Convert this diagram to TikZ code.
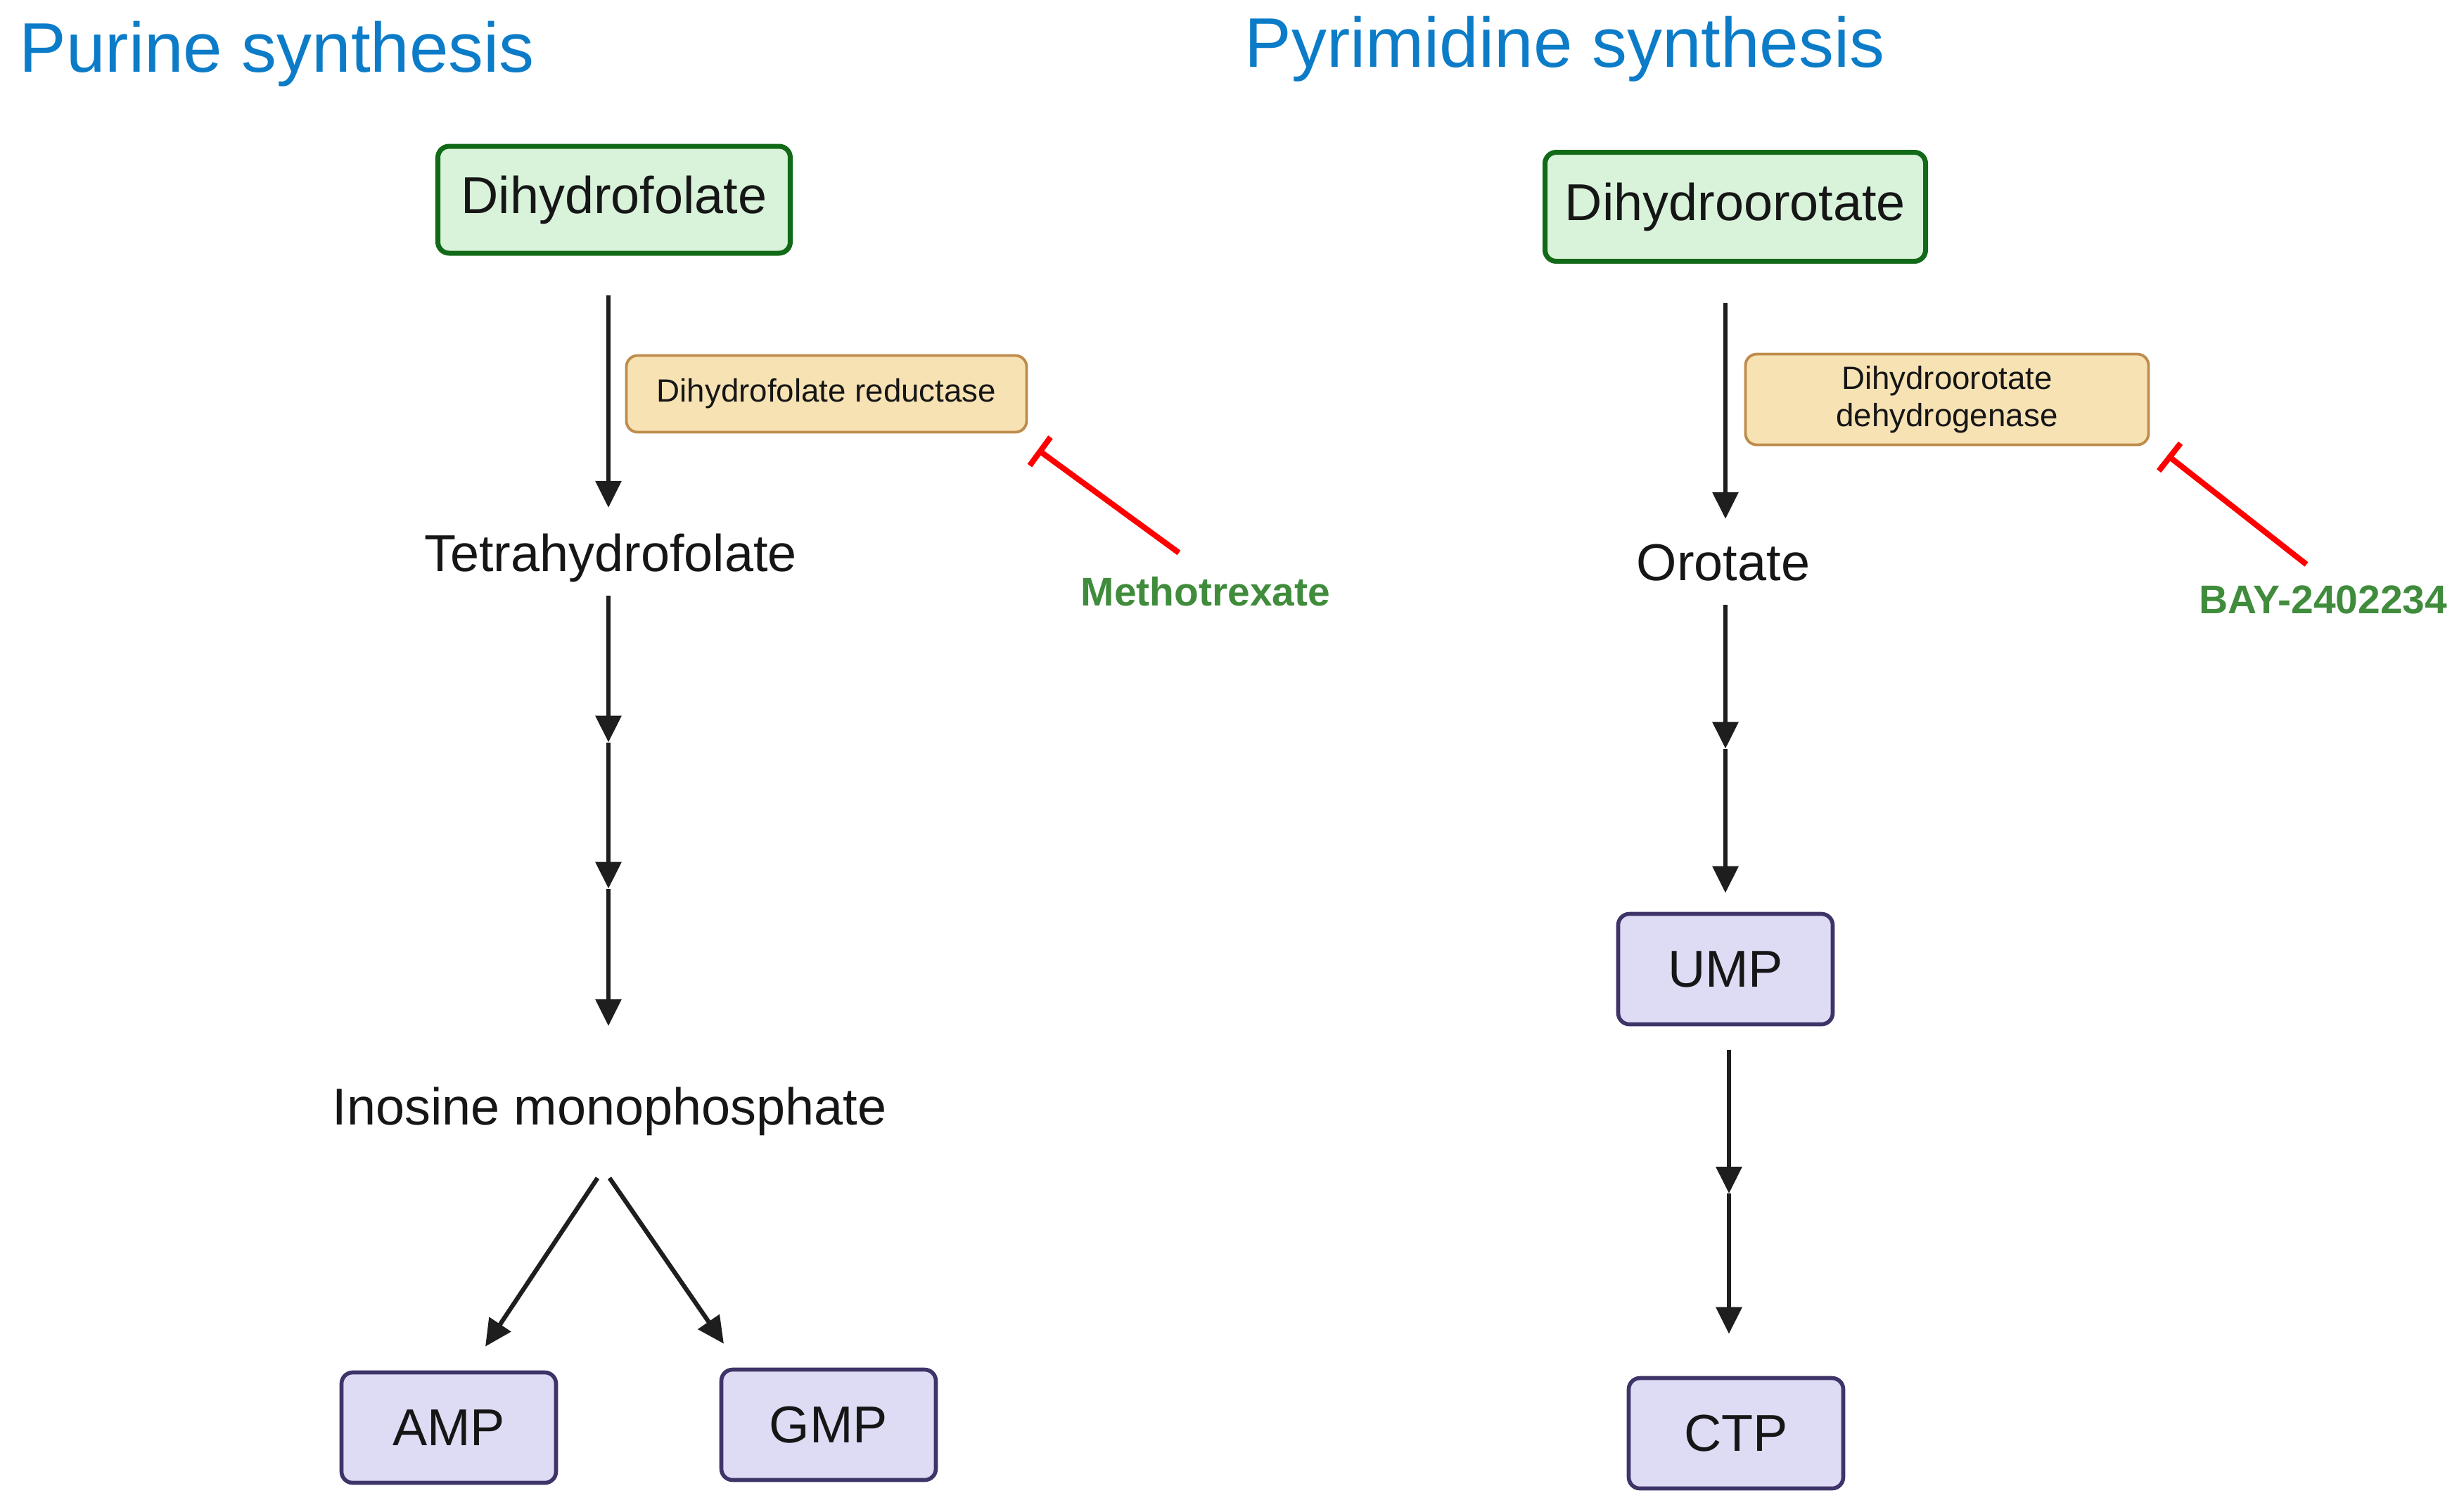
\documentclass[tikz,border=0pt]{standalone}
\usepackage{fontspec}
\setmainfont{Liberation Sans}
\usetikzlibrary{arrows.meta}
\tikzset{>={Triangle[length=3.8mm,width=3.6mm]}}
\definecolor{titleblue}{RGB}{12,124,200}
\definecolor{drugGreen}{RGB}{64,140,60}
\definecolor{startLine}{RGB}{18,106,24}
\definecolor{startFill}{RGB}{216,243,218}
\definecolor{enzLine}{RGB}{190,140,76}
\definecolor{enzFill}{RGB}{247,226,180}
\definecolor{prodLine}{RGB}{62,52,104}
\definecolor{prodFill}{RGB}{222,219,245}
\definecolor{arrowGray}{RGB}{30,30,30}
\definecolor{inkBlack}{RGB}{22,22,22}

\tikzset{
  title/.style={anchor=base west, inner sep=0pt, text=titleblue, font=\fontsize{28.4}{32}\selectfont},
  startbox/.style={draw=startLine, fill=startFill, line width=2pt, rounded corners=1.6mm,
    inner sep=0pt, text=inkBlack, font=\fontsize{21}{25}\selectfont},
  enzbox/.style={draw=enzLine, fill=enzFill, line width=1.1pt, rounded corners=1.6mm,
    inner sep=0pt, align=center, text=inkBlack, font=\fontsize{13}{15}\selectfont},
  prodbox/.style={draw=prodLine, fill=prodFill, line width=1.6pt, rounded corners=1.6mm,
    inner sep=0pt, minimum width=3.05cm, minimum height=1.57cm, text=inkBlack,
    font=\fontsize{21}{25}\selectfont},
  metab/.style={anchor=base, inner sep=0pt, text=inkBlack, font=\fontsize{21}{25}\selectfont},
  drug/.style={anchor=base, inner sep=0pt, text=drugGreen, font=\fontsize{16.2}{19}\selectfont\bfseries},
  flow/.style={->, line width=1.8pt, draw=arrowGray},
  inhibit/.style={-{Bar[width=5mm]}, line width=2.3pt, draw=red},
}

\begin{document}
\begin{tikzpicture}
  \useasboundingbox (0,0) rectangle (35.03,-21.49);

  % purine side
  \node[title] (purT) at (0.27,-1.02) {Purine synthesis};
  \node[startbox, minimum width=5.01cm, minimum height=1.52cm] (dhf) at (8.73,-2.84) {Dihydrofolate};
  \node[enzbox, minimum width=5.69cm, minimum height=1.09cm] (dhfr) at (11.75,-5.60) {Dihydrofolate reductase};
  \node[metab] (thf) at (8.68,-8.12) {Tetrahydrofolate};
  \node[drug] (mtx) at (17.14,-8.61) {Methotrexate};
  \coordinate (s1) at (8.65,-10.555);
  \coordinate (s2) at (8.65,-12.635);
  \node[metab] (imp) at (8.665,-15.99) {Inosine monophosphate};
  \node[prodbox] (amp) at (6.38,-20.30) {AMP};
  \node[prodbox] (gmp) at (11.78,-20.26) {GMP};

  \draw[flow, shorten <=5.6mm, shorten >=3.6mm] (dhf.south -| s1) -- (s1 |- thf.north);
  \draw[flow, shorten <=1.9mm] (thf.south -| s1) -- (s1);
  \draw[flow] (s1) -- (s2);
  \draw[flow, shorten >=8.6mm] (s2) -- (s2 |- imp.north);
  \draw[flow] ([xshift=-1.7mm,yshift=-6mm]imp.south) -- ([xshift=5.2mm,yshift=3.4mm]amp.north);
  \draw[flow] ([yshift=-6mm]imp.south) -- ([xshift=-14.9mm,yshift=3.4mm]gmp.north);
  \draw[inhibit] ([xshift=-3.8mm,yshift=3.3mm]mtx.north) -- ([xshift=1.4mm,yshift=-2.3mm]dhfr.south east);

  % pyrimidine side
  \node[title] (pyrT) at (17.69,-0.95) {Pyrimidine synthesis};
  \node[startbox, minimum width=5.41cm, minimum height=1.55cm] (dho) at (24.67,-2.94) {Dihydroorotate};
  \node[enzbox, minimum width=5.73cm, minimum height=1.29cm] (dhodh) at (27.68,-5.68) {Dihydroorotate\\dehydrogenase};
  \node[metab] (oro) at (24.50,-8.25) {Orotate};
  \node[drug] (bay) at (33.03,-8.72) {BAY-2402234};
  \coordinate (s3) at (24.53,-10.645);
  \node[prodbox] (ump) at (24.53,-13.78) {UMP};
  \coordinate (s4) at (24.58,-16.97);
  \node[prodbox] (ctp) at (24.68,-20.38) {CTP};

  \draw[flow, shorten <=5.6mm, shorten >=3.5mm] (dho.south -| s3) -- (s3 |- oro.north);
  \draw[flow, shorten <=3.4mm] (oro.south -| s3) -- (s3);
  \draw[flow, shorten >=2.7mm] (s3) -- (s3 |- ump.north);
  \draw[flow, shorten <=3.4mm] (ump.south -| s4) -- (s4);
  \draw[flow, shorten >=6mm] (s4) -- (s4 |- ctp.north);
  \draw[inhibit] ([xshift=-2.4mm,yshift=2.9mm]bay.north) -- ([xshift=2.5mm,yshift=-1.3mm]dhodh.south east);
\end{tikzpicture}
\end{document}
